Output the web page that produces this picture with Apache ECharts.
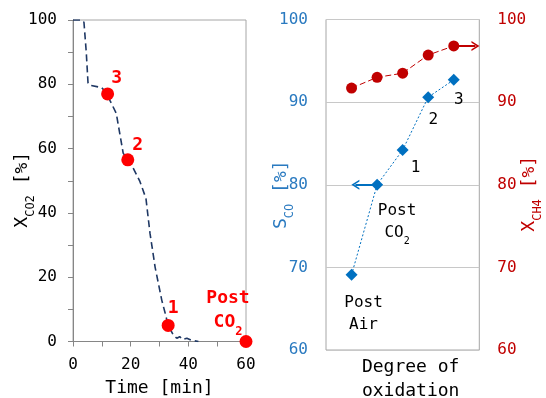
<!DOCTYPE html>
<html><head><meta charset="utf-8">
<script src="https://cdn.jsdelivr.net/npm/echarts@6/dist/echarts.min.js"></script>
<style>html,body{margin:0;padding:0;background:#fff}#c{width:546px;height:398px}</style>
</head><body><div id="c"></div>
<script>
// ---- Left panel: CO2 conversion vs time ----
const timeMin   = [0, 2.9, 3.8, 4.1, 4.6, 5.2, 5.8, 9.9, 12, 12.8, 15, 17.4, 19, 20.3, 23.2, 25.3, 26.7, 28.5, 30.8, 32, 33, 34.8, 36, 37, 38, 39.5, 41, 43.5];
const xco2Curve = [100, 100, 99.3, 98.7, 90, 80.5, 79.7, 79, 77, 75, 71, 58.6, 56.5, 55, 49.8, 44.5, 33.7, 23, 12.8, 8.7, 5, 2, 1, 1.5, 0.6, 1, 0.4, 0];
const sampleTime = [12, 19, 33, 60];
const sampleXco2 = [77, 56.5, 5, 0];
const sampleNames = ['3', '2', '1', 'Post CO2'];
const timeTicks = [0, 20, 40, 60];
const xco2Ticks = [0, 20, 40, 60, 80, 100];

// ---- Right panel: selectivity / CH4 conversion vs degree of oxidation ----
const oxidationSteps = ['Post Air', 'Post CO2', '1', '2', '3'];
const sCO  = [69.1, 80.0, 84.2, 90.6, 92.7];
const xCH4 = [91.7, 93.0, 93.5, 95.7, 96.8];
const rightTicks = [60, 70, 80, 90, 100];

const FONT = 'DejaVu Sans Mono';
const BLUE = '#0070c0', DRED = '#c00000', RED = '#ff0000', GRAY = '#a6a6a6';

function rich(color, size, bold) {
  const sub = Math.round(size * 0.65);
  const w = bold ? 'bold' : 'normal';
  return {
    m: {fontFamily: FONT, fontSize: size, color: color, fontWeight: w, height: size, lineHeight: size + 6, verticalAlign: 'top'},
    s: {fontFamily: FONT, fontSize: sub, color: color, fontWeight: w, height: sub, verticalAlign: 'bottom'}
  };
}
function toRich(name) {
  return name.split(' ').map(w => {
    const m = w.match(/^([A-Za-z]+?)(\d+)$/);
    if (m) return '{m|' + m[1] + '}{s|' + m[2] + '}';
    return '{m|' + w + '}';
  }).join('\n');
}

const leftOffsets = [[9, -13], [10, -12], [5, -14], [-18, -28]];
const rightOffsets = [[12, 42], [20, 40], [13, 21], [5, 26], [5, 23]];

const chevron = 'path://M0,10 L10,0 L20,10 L16.5,10 L10,3.5 L3.5,10 Z';

const option = {
  animation: false,
  backgroundColor: '#fff',
  grid: [
    {left: 73, top: 20, width: 173, height: 321.5, show: true, borderColor: GRAY, borderWidth: 1, outerBoundsMode: 'none', containLabel: false},
    {left: 326, top: 19.5, width: 153.3, height: 330.5, show: true, borderColor: GRAY, borderWidth: 1, outerBoundsMode: 'none', containLabel: false}
  ],
  xAxis: [
    {gridIndex: 0, type: 'value', min: timeTicks[0], max: timeTicks[timeTicks.length - 1], interval: 20,
     axisLine: {show: true, onZero: false, lineStyle: {color: '#868686'}},
     axisTick: {show: true, length: 5, lineStyle: {color: '#868686'}},
     minorTick: {show: true, splitNumber: 2, length: 5, lineStyle: {color: '#868686'}},
     splitLine: {show: false},
     axisLabel: {margin: 15, fontSize: 16, color: '#000', fontFamily: FONT},
     name: 'Time [min]', nameLocation: 'middle', nameGap: 38, nameMoveOverlap: false,
     nameTextStyle: {fontSize: 18, color: '#000', fontFamily: FONT}},
    {gridIndex: 1, type: 'value', min: 0, max: oxidationSteps.length + 1,
     axisLine: {show: false}, axisTick: {show: false}, axisLabel: {show: false}, splitLine: {show: false},
     name: 'Degree of\noxidation', nameLocation: 'middle', nameGap: 5, nameMoveOverlap: false,
     nameTextStyle: {fontSize: 18, lineHeight: 24, color: '#000', fontFamily: FONT, padding: [0, 0, 0, 16]}}
  ],
  yAxis: [
    {gridIndex: 0, type: 'value', min: xco2Ticks[0], max: xco2Ticks[xco2Ticks.length - 1], interval: 20,
     axisLine: {show: true, lineStyle: {color: '#868686'}},
     axisTick: {show: true, length: 5, lineStyle: {color: '#868686'}},
     minorTick: {show: true, splitNumber: 2, length: 5, lineStyle: {color: '#868686'}},
     splitLine: {show: false},
     axisLabel: {margin: 16, fontSize: 16, color: '#000', fontFamily: FONT},
     name: '{m|X}{s|CO2}{m| [%]}', nameLocation: 'middle', nameRotate: 90, nameGap: 36, nameMoveOverlap: false,
     nameTextStyle: {rich: rich('#000', 18, false), padding: [0, 18, 0, 0]}},
    {gridIndex: 1, type: 'value', position: 'left', min: rightTicks[0], max: rightTicks[rightTicks.length - 1], interval: 10,
     axisLine: {show: false}, axisTick: {show: false},
     splitLine: {show: true, lineStyle: {color: '#c8c8c8', width: 1}},
     axisLabel: {margin: 18, fontSize: 16, color: '#2a7ac0', fontFamily: FONT},
     name: '{m|S}{s|CO}{m| [%]}', nameLocation: 'middle', nameRotate: 90, nameGap: 30, nameMoveOverlap: false,
     nameTextStyle: {rich: rich('#2a7ac0', 18, false), padding: [0, 20, 0, 0]}},
    {gridIndex: 1, type: 'value', position: 'right', min: rightTicks[0], max: rightTicks[rightTicks.length - 1], interval: 10,
     axisLine: {show: false}, axisTick: {show: false}, splitLine: {show: false},
     axisLabel: {margin: 18, fontSize: 16, color: DRED, fontFamily: FONT},
     name: '{m|X}{s|CH4}{m| [%]}', nameLocation: 'middle', nameRotate: 90, nameGap: 41, nameMoveOverlap: false,
     nameTextStyle: {rich: rich(DRED, 18, false), padding: [0, 18, 0, 0]}}
  ],
  series: [
    {type: 'line', xAxisIndex: 0, yAxisIndex: 0, showSymbol: false, symbol: 'none',
     data: timeMin.map((t, i) => [t, xco2Curve[i]]),
     lineStyle: {color: '#1f3864', width: 1.6, type: [7, 4]}, z: 2},
    {type: 'scatter', xAxisIndex: 0, yAxisIndex: 0, symbol: 'circle', symbolSize: 13,
     itemStyle: {color: RED, opacity: 1},
     data: sampleTime.map((t, i) => ({
       value: [t, sampleXco2[i]],
       label: {show: true, position: 'inside', offset: leftOffsets[i], formatter: toRich(sampleNames[i]), rich: rich(RED, 18, true)}
     })), z: 5},
    {type: 'line', xAxisIndex: 1, yAxisIndex: 1, symbol: 'diamond', symbolSize: 12,
     itemStyle: {color: BLUE}, lineStyle: {color: BLUE, width: 1, type: [2, 2]},
     data: sCO.map((v, i) => ({
       value: [i + 1, v],
       label: {show: true, position: 'inside', offset: rightOffsets[i], formatter: toRich(oxidationSteps[i]), rich: rich('#000', 16, false)}
     })),
     markLine: {silent: true, symbol: ['none', chevron], symbolSize: [10, 8], label: {show: false},
       lineStyle: {color: BLUE, width: 2, type: 'solid'},
       data: [[{coord: [2, sCO[1]]}, {coord: [1.15, sCO[1]]}]]}, z: 4},
    {type: 'line', xAxisIndex: 1, yAxisIndex: 2, symbol: 'circle', symbolSize: 11,
     itemStyle: {color: DRED}, lineStyle: {color: DRED, width: 1, type: [6, 3]},
     data: xCH4.map((v, i) => [i + 1, v]),
     markLine: {silent: true, symbol: ['none', chevron], symbolSize: [10, 8], label: {show: false},
       lineStyle: {color: DRED, width: 2, type: 'solid'},
       data: [[{coord: [5, xCH4[4]]}, {coord: [5.85, xCH4[4]]}]]}, z: 4}
  ]
};
const chart = echarts.init(document.getElementById('c'), null, {renderer: 'canvas'});
chart.setOption(option);
</script></body></html>
